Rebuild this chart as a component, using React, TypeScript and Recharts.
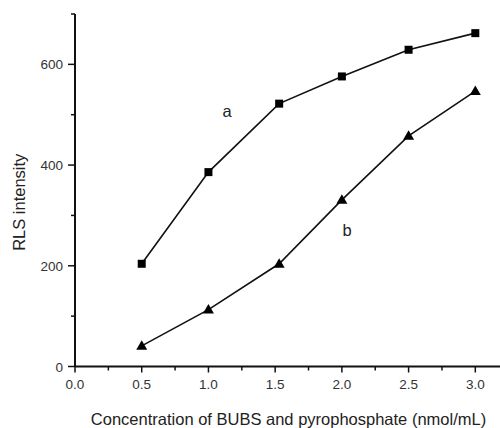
import React from 'react';
import {
  LineChart, Line, XAxis, YAxis, ReferenceDot,
} from 'recharts';

const concentration = [0.5, 1.0, 1.53, 2.0, 2.5, 3.0];
const seriesA = [204, 386, 522, 576, 629, 662];
const seriesB = [41, 113, 204, 331, 458, 547];

const xTicks = [0, 0.25, 0.5, 0.75, 1, 1.25, 1.5, 1.75, 2, 2.25, 2.5, 2.75, 3, 3.25];
const yTicks = [0, 100, 200, 300, 400, 500, 600, 700];
const xMajor = [0, 0.5, 1, 1.5, 2, 2.5, 3];
const yMajor = [0, 200, 400, 600];

const data = concentration.map((c, i) => ({ c, a: seriesA[i], b: seriesB[i] }));

const font = '"Liberation Sans", Arial, sans-serif';

const XTick = (props: any) => {
  const { x, y, payload } = props;
  const major = xMajor.includes(payload.value);
  return (
    <g>
      <line x1={x} x2={x} y1={y} y2={y + (major ? 6 : 4)} stroke="#111" strokeWidth={1.5} />
      {major && (
        <text x={x} y={y + 22} textAnchor="middle" fontSize={13.5} fill="#333" fontFamily={font}>
          {payload.value.toFixed(1)}
        </text>
      )}
    </g>
  );
};

const YTick = (props: any) => {
  const { x, y, payload } = props;
  const major = yMajor.includes(payload.value);
  return (
    <g>
      <line x1={x} x2={x - (major ? 7 : 4)} y1={y} y2={y} stroke="#111" strokeWidth={1.5} />
      {major && (
        <text x={x - 12} y={y + 5} textAnchor="end" fontSize={13.5} fill="#333" fontFamily={font}>
          {payload.value}
        </text>
      )}
    </g>
  );
};

const Square = (props: any) => {
  const { cx, cy, index } = props;
  return <rect key={`s${index}`} x={cx - 4} y={cy - 4} width={8} height={8} fill="#000" />;
};

const Triangle = (props: any) => {
  const { cx, cy, index } = props;
  return (
    <path
      key={`t${index}`}
      d={`M${cx},${cy - 5.5} L${cx + 5.5},${cy + 4} L${cx - 5.5},${cy + 4} Z`}
      fill="#000"
    />
  );
};

const SeriesLabel = (text: string) => (props: any) => {
  const { viewBox } = props;
  return (
    <text x={viewBox.x} y={viewBox.y} textAnchor="middle" dominantBaseline="middle" fontSize={16.5} fill="#222" fontFamily={font}>
      {text}
    </text>
  );
};

export default function App() {
  return (
    <div style={{ position: 'absolute', left: 0, top: 0, width: 500, height: 428, overflow: 'hidden', background: '#fff' }}>
      <LineChart
        width={502}
        height={428}
        data={data}
        margin={{ top: 14, right: 0, bottom: 0, left: 0 }}
      >
        <XAxis
          dataKey="c"
          type="number"
          domain={[0, 3.2]}
          ticks={xTicks}
          allowDataOverflow
          interval={0}
          tickSize={0}
          tickMargin={0}
          height={61.5}
          axisLine={{ stroke: '#111', strokeWidth: 2 }}
          tickLine={false}
          tick={<XTick />}
          label={{
            value: 'Concentration of BUBS and pyrophosphate (nmol/mL)',
            position: 'insideBottom',
            offset: 3,
            style: { fontSize: 16.5, fill: '#222', fontFamily: font },
          }}
        />
        <YAxis
          type="number"
          domain={[0, 700]}
          ticks={yTicks}
          interval={0}
          tickSize={0}
          tickMargin={0}
          width={75}
          axisLine={{ stroke: '#111', strokeWidth: 2 }}
          tickLine={false}
          tick={<YTick />}
          label={{
            value: 'RLS intensity',
            angle: -90,
            position: 'insideLeft',
            offset: 19,
            dy: 12,
            style: { fontSize: 16.5, fill: '#222', fontFamily: font, textAnchor: 'middle' },
          }}
        />
        <Line
          dataKey="a"
          stroke="#111"
          strokeWidth={1.6}
          dot={<Square />}
          activeDot={false}
          isAnimationActive={false}
        />
        <Line
          dataKey="b"
          stroke="#111"
          strokeWidth={1.6}
          dot={<Triangle />}
          activeDot={false}
          isAnimationActive={false}
        />
        <ReferenceDot x={1.14} y={505} r={0} fill="none" stroke="none" label={SeriesLabel('a')} />
        <ReferenceDot x={2.04} y={267} r={0} fill="none" stroke="none" label={SeriesLabel('b')} />
      </LineChart>
    </div>
  );
}
